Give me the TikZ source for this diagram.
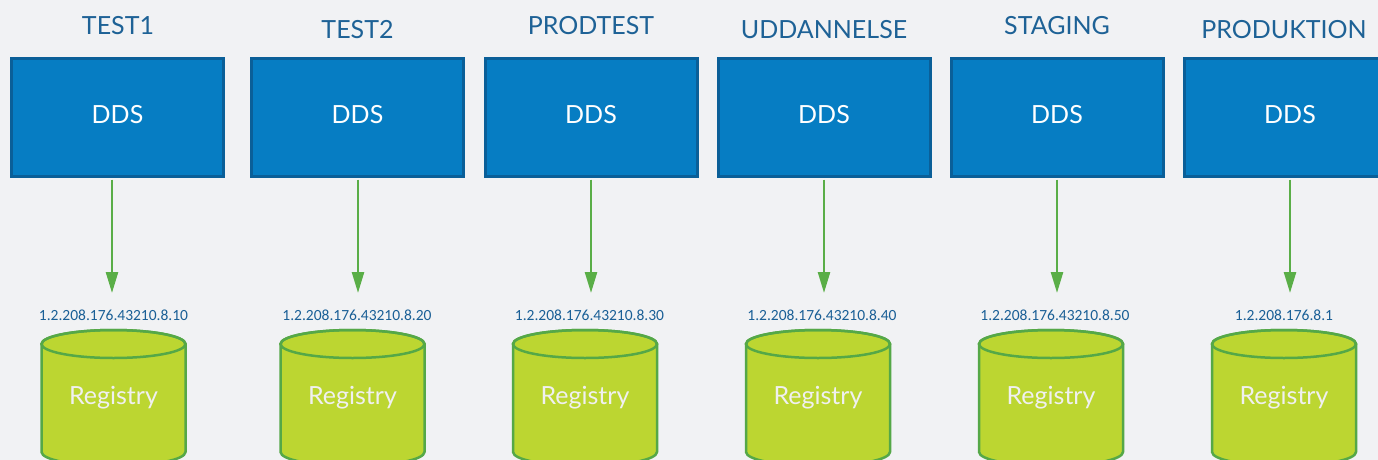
\documentclass[tikz,border=0pt]{standalone}
\usepackage{fontspec}
\setmainfont{Lato}
\newfontfamily\ipfont{Carlito}
\usetikzlibrary{arrows.meta,calc}
\definecolor{bgc}{HTML}{F1F2F4}
\definecolor{boxfill}{HTML}{067DC3}
\definecolor{boxline}{HTML}{0A5F98}
\definecolor{titlec}{HTML}{1E6296}
\definecolor{ipc}{HTML}{1A5F96}
\definecolor{cylfill}{HTML}{BCD631}
\definecolor{cylline}{HTML}{55A847}
\definecolor{arrc}{HTML}{5AAE47}
\tikzset{
  envtitle/.style={anchor=base, text=titlec, font=\fontsize{25}{28}\selectfont, inner sep=0pt},
  ddsbox/.style={draw=boxline, fill=boxfill, line width=3pt, minimum width=212pt, minimum height=118pt, text=white, font=\fontsize{25}{28}\selectfont, inner sep=0pt, text height=11pt, text depth=0pt},
  iplabel/.style={anchor=base, text=ipc, font=\ipfont\fontsize{15.5}{18}\selectfont, inner sep=0pt},
  regtext/.style={anchor=base, text=white!94!black, font=\fontsize{25}{28}\selectfont, inner sep=0pt},
  flow/.style={draw=arrc, line width=2.5pt, -{Triangle[length=21pt,width=12pt]}},
  cylpath/.style={fill=cylfill, draw=cylline, line width=2.5pt, line join=round},
}
\newcommand{\regcyl}[2]{%
  \path[cylpath] (#1-72,-344) -- (#1-72,-452) arc (180:360:72pt and 14pt) -- (#1+72,-344) arc (0:180:72pt and 14pt) -- cycle;
  \draw[cylline, line width=2.5pt] (#1,-344) ellipse (72pt and 14pt);
  \node[regtext] (#2) at (#1,-404) {Registry};
}
\begin{document}
\begin{tikzpicture}[x=1pt,y=1pt]
\useasboundingbox[fill=bgc] (0,0) rectangle (1378,-460);
% titles
\node[envtitle] (t1) at (118,-35) {TEST1};
\node[envtitle] (t2) at (357.5,-38) {TEST2};
\node[envtitle] (t3) at (591,-35) {PRODTEST};
\node[envtitle] (t4) at (824,-38) {UDDANNELSE};
\node[envtitle] (t5) at (1057,-35) {STAGING};
\node[envtitle] (t6) at (1284,-38) {PRODUKTION};
% boxes
\node[ddsbox] (d1) at (117.5,-117.5) {DDS};
\node[ddsbox] (d2) at (357.5,-117.5) {DDS};
\node[ddsbox] (d3) at (591,-117.5) {DDS};
\node[ddsbox] (d4) at (824,-117.5) {DDS};
\node[ddsbox] (d5) at (1057,-117.5) {DDS};
\node[ddsbox] (d6) at (1290,-117.5) {DDS};
% cylinders
\regcyl{113.5}{r1}
\regcyl{352.5}{r2}
\regcyl{585}{r3}
\regcyl{818}{r4}
\regcyl{1051}{r5}
\regcyl{1284}{r6}
% ip labels
\node[iplabel] (i1) at (113.5,-320) {1.2.208.176.43210.8.10};
\node[iplabel] (i2) at (357,-320) {1.2.208.176.43210.8.20};
\node[iplabel] (i3) at (589.5,-320) {1.2.208.176.43210.8.30};
\node[iplabel] (i4) at (822,-320) {1.2.208.176.43210.8.40};
\node[iplabel] (i5) at (1055,-320) {1.2.208.176.43210.8.50};
\node[iplabel] (i6) at (1284,-320) {1.2.208.176.8.1};
% arrow ends
\coordinate (a1) at (112,-293);
\coordinate (a2) at (358,-293);
\coordinate (a3) at (591,-293);
\coordinate (a4) at (824,-293);
\coordinate (a5) at (1057,-293);
\coordinate (a6) at (1290,-293);
\foreach \k in {1,...,6}{
  \draw[flow] ([yshift=-1.5pt]d\k.south -| a\k) -- (a\k);
}
\end{tikzpicture}
\end{document}
